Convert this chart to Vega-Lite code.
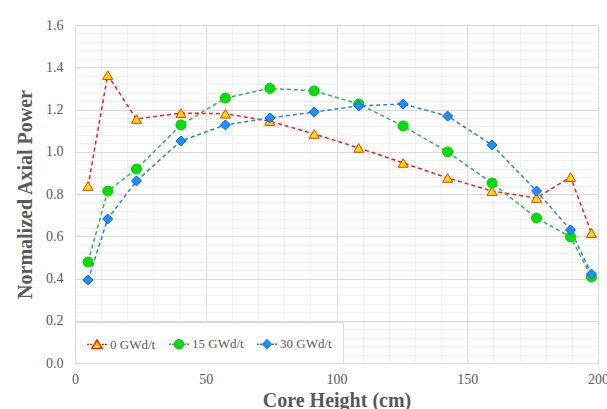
{
  "$schema": "https://vega.github.io/schema/vega-lite/v6.json",
  "width": 523,
  "height": 338,
  "autosize": {"type": "none"},
  "padding": {"left": 75, "top": 25, "right": 9, "bottom": 46},
  "background": "white",
  "config": {
    "view": {"stroke": "#d9d9d9"},
    "font": "Liberation Serif",
    "axis": {"labelFont": "Liberation Serif", "titleFont": "Liberation Serif"},
    "legend": {"labelFont": "Liberation Serif"}
  },
  "data": {
    "values": [
      {"series": "0 GWd/t", "height": 5, "power": 0.838},
      {"series": "0 GWd/t", "height": 12.5, "power": 1.363},
      {"series": "0 GWd/t", "height": 23.5, "power": 1.155},
      {"series": "0 GWd/t", "height": 40.5, "power": 1.183},
      {"series": "0 GWd/t", "height": 57.5, "power": 1.18},
      {"series": "0 GWd/t", "height": 74.5, "power": 1.145},
      {"series": "0 GWd/t", "height": 91.5, "power": 1.084},
      {"series": "0 GWd/t", "height": 108.5, "power": 1.018},
      {"series": "0 GWd/t", "height": 125.5, "power": 0.947},
      {"series": "0 GWd/t", "height": 142.5, "power": 0.876},
      {"series": "0 GWd/t", "height": 159.5, "power": 0.814},
      {"series": "0 GWd/t", "height": 176.5, "power": 0.781},
      {"series": "0 GWd/t", "height": 189.5, "power": 0.88},
      {"series": "0 GWd/t", "height": 197.5, "power": 0.615},
      {"series": "15 GWd/t", "height": 5, "power": 0.478},
      {"series": "15 GWd/t", "height": 12.5, "power": 0.814},
      {"series": "15 GWd/t", "height": 23.5, "power": 0.918},
      {"series": "15 GWd/t", "height": 40.5, "power": 1.127},
      {"series": "15 GWd/t", "height": 57.5, "power": 1.254},
      {"series": "15 GWd/t", "height": 74.5, "power": 1.3},
      {"series": "15 GWd/t", "height": 91.5, "power": 1.288},
      {"series": "15 GWd/t", "height": 108.5, "power": 1.226},
      {"series": "15 GWd/t", "height": 125.5, "power": 1.122},
      {"series": "15 GWd/t", "height": 142.5, "power": 0.999},
      {"series": "15 GWd/t", "height": 159.5, "power": 0.852},
      {"series": "15 GWd/t", "height": 176.5, "power": 0.686},
      {"series": "15 GWd/t", "height": 189.5, "power": 0.597},
      {"series": "15 GWd/t", "height": 197.5, "power": 0.407},
      {"series": "30 GWd/t", "height": 5, "power": 0.393},
      {"series": "30 GWd/t", "height": 12.5, "power": 0.682},
      {"series": "30 GWd/t", "height": 23.5, "power": 0.862},
      {"series": "30 GWd/t", "height": 40.5, "power": 1.051},
      {"series": "30 GWd/t", "height": 57.5, "power": 1.127},
      {"series": "30 GWd/t", "height": 74.5, "power": 1.16},
      {"series": "30 GWd/t", "height": 91.5, "power": 1.188},
      {"series": "30 GWd/t", "height": 108.5, "power": 1.217},
      {"series": "30 GWd/t", "height": 125.5, "power": 1.226},
      {"series": "30 GWd/t", "height": 142.5, "power": 1.169},
      {"series": "30 GWd/t", "height": 159.5, "power": 1.032},
      {"series": "30 GWd/t", "height": 176.5, "power": 0.814},
      {"series": "30 GWd/t", "height": 189.5, "power": 0.63},
      {"series": "30 GWd/t", "height": 197.5, "power": 0.421}
    ]
  },
  "layer": [
    {
      "mark": {"type": "line", "strokeDash": [4, 3], "strokeWidth": 1.5},
      "encoding": {
        "x": {
          "field": "height", "type": "quantitative",
          "scale": {"domain": [0, 200], "nice": false, "zero": false},
          "axis": {
            "orient": "top", "values": [0,10,20,30,40,50,60,70,80,90,100,110,120,130,140,150,160,170,180,190,200],
            "grid": true, "gridColor": "#f0f0f0", "gridWidth": 1,
            "labels": false, "ticks": false, "domain": false, "title": null
          }
        },
        "y": {
          "field": "power", "type": "quantitative",
          "scale": {"domain": [0, 1.6], "nice": false},
          "axis": {
            "orient": "right", "values": [0,0.04,0.08,0.12,0.16,0.24,0.28,0.32,0.36,0.44,0.48,0.52,0.56,0.64,0.68,0.72,0.76,0.84,0.88,0.92,0.96,1.04,1.08,1.12,1.16,1.24,1.28,1.32,1.36,1.44,1.48,1.52,1.56],
            "grid": true, "gridColor": "#f0f0f0", "gridWidth": 1,
            "labels": false, "ticks": false, "domain": false, "title": null
          }
        },
        "color": {
          "field": "series", "type": "nominal",
          "scale": {"domain": ["0 GWd/t", "15 GWd/t", "30 GWd/t"], "range": ["#ff1a1a", "#2db34f", "#2f80d8"]},
          "legend": null
        }
      }
    },
    {
      "mark": {"type": "point", "filled": true, "size": 100, "strokeWidth": 1, "opacity": 1},
      "encoding": {
        "x": {
          "field": "height", "type": "quantitative",
          "axis": {
            "values": [0, 50, 100, 150, 200], "grid": true, "gridColor": "#d9d9d9",
            "domain": false, "ticks": false, "labelFlush": false, "labelOverlap": false,
            "labelFont": "Liberation Serif", "labelFontSize": 14, "labelColor": "#595959", "labelPadding": 9,
            "title": "Core Height (cm)", "titleFont": "Liberation Serif", "titleFontSize": 20,
            "titleFontWeight": "bold", "titleColor": "#595959", "titlePadding": 4
          }
        },
        "y": {
          "field": "power", "type": "quantitative",
          "axis": {
            "values": [0, 0.2, 0.4, 0.6, 0.8, 1.0, 1.2, 1.4, 1.6], "format": ".1f",
            "grid": true, "gridColor": "#d9d9d9", "labelFlush": false, "labelOverlap": false,
            "domain": false, "ticks": false,
            "labelFont": "Liberation Serif", "labelFontSize": 14, "labelColor": "#595959", "labelPadding": 12,
            "title": "Normalized Axial Power", "titleFont": "Liberation Serif", "titleFontSize": 20,
            "titleFontWeight": "bold", "titleColor": "#595959", "titlePadding": 10
          }
        },
        "shape": {
          "field": "series", "type": "nominal",
          "scale": {"domain": ["0 GWd/t", "15 GWd/t", "30 GWd/t"], "range": ["triangle-up", "circle", "diamond"]},
          "legend": null
        },
        "fill": {
          "field": "series", "type": "nominal",
          "scale": {"domain": ["0 GWd/t", "15 GWd/t", "30 GWd/t"], "range": ["#ffe000", "#00e000", "#1e90ff"]},
          "legend": null
        },
        "stroke": {
          "field": "series", "type": "nominal",
          "scale": {"domain": ["0 GWd/t", "15 GWd/t", "30 GWd/t"], "range": ["#ff3300", "#00d000", "#0058ff"]},
          "legend": null
        }
      }
    },
    {
      "mark": {"type": "point", "filled": true, "size": 400, "strokeWidth": 1.5, "opacity": 0},
      "encoding": {
        "x": {"field": "height", "type": "quantitative", "axis": null},
        "y": {"field": "power", "type": "quantitative", "axis": null},
        "shape": {
          "field": "series", "type": "nominal",
          "scale": {
            "domain": ["0 GWd/t", "15 GWd/t", "30 GWd/t"],
            "range": [
              "M-1,0H-0.8M-0.7,0H-0.5M0.5,0H0.7M0.8,0H1M0,-0.45L0.52,0.4L-0.52,0.4Z",
              "M-1,0H-0.8M-0.7,0H-0.5M0.5,0H0.7M0.8,0H1M-0.45,0A0.45,0.45,0,1,0,0.45,0A0.45,0.45,0,1,0,-0.45,0Z",
              "M-1,0H-0.8M-0.7,0H-0.5M0.5,0H0.7M0.8,0H1M0,-0.45L0.42,0L0,0.45L-0.42,0Z"
            ]
          },
          "legend": {
            "title": null, "orient": "bottom-left", "offset": 0, "direction": "horizontal",
            "padding": 11, "strokeColor": "#d9d9d9", "fillColor": "white",
            "labelFont": "Liberation Serif", "labelFontSize": 13, "labelColor": "#595959",
            "labelOffset": 2, "columnPadding": 10, "symbolSize": 400, "symbolStrokeWidth": 1.5,
            "symbolOpacity": 1
          }
        },
        "fill": {
          "field": "series", "type": "nominal",
          "scale": {"domain": ["0 GWd/t", "15 GWd/t", "30 GWd/t"], "range": ["#ffe000", "#00e000", "#1e90ff"]}
        },
        "stroke": {
          "field": "series", "type": "nominal",
          "scale": {"domain": ["0 GWd/t", "15 GWd/t", "30 GWd/t"], "range": ["#ff2200", "#2db34f", "#2f80d8"]}
        }
      }
    }
  ],
  "resolve": {
    "scale": {"shape": "independent", "fill": "independent", "stroke": "independent"},
    "axis": {"x": "independent", "y": "independent"}
  }
}
